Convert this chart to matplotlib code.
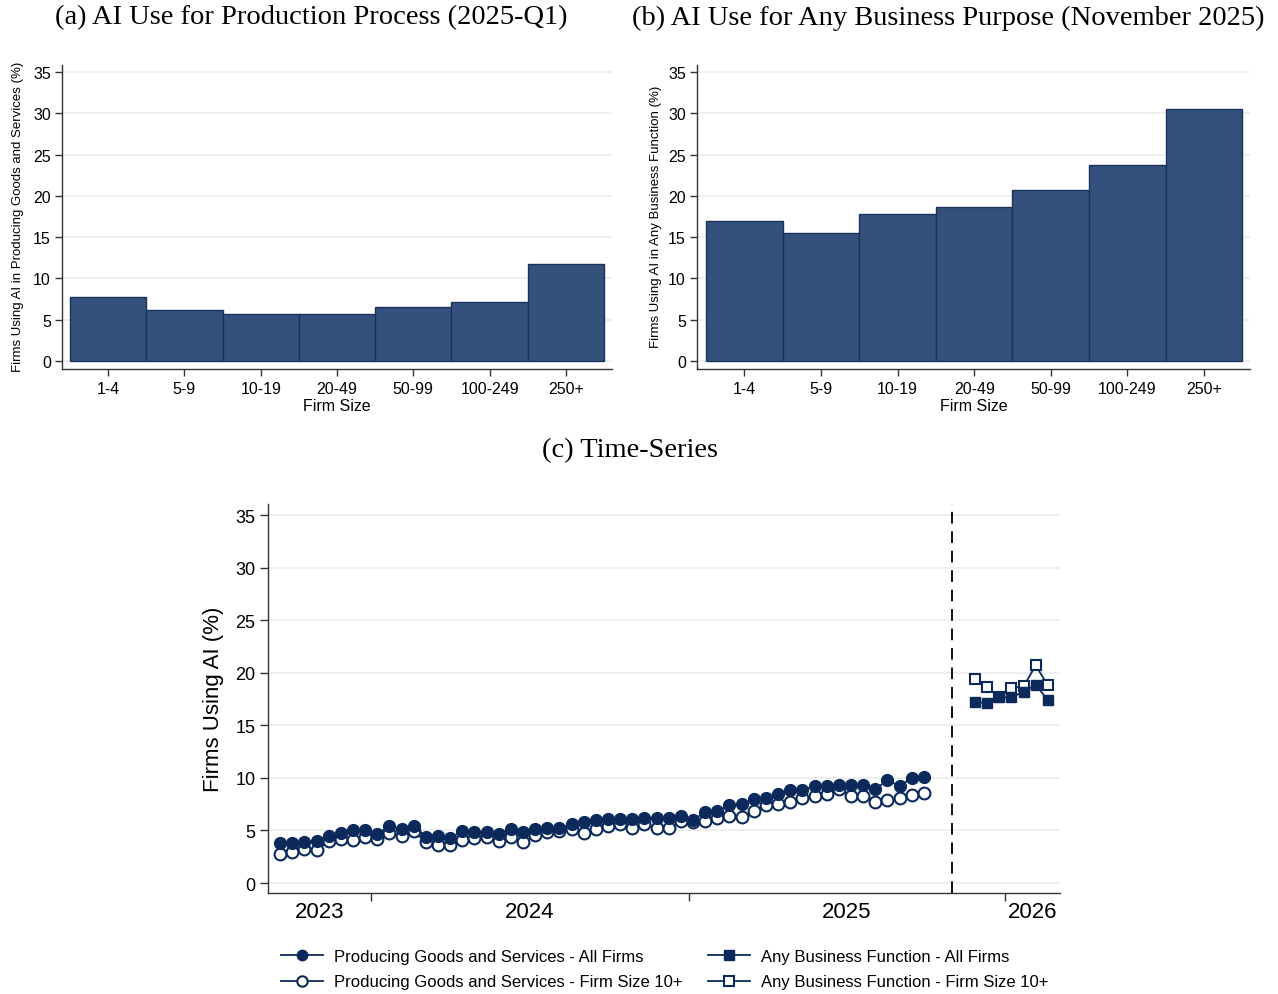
import matplotlib
matplotlib.use('Agg')
import matplotlib.pyplot as plt
import matplotlib.dates as mdates
import pandas as pd
from matplotlib.lines import Line2D

# ---------------- data ----------------
sizes = ['1-4', '5-9', '10-19', '20-49', '50-99', '100-249', '250+']
prod_q1 = [7.7, 6.2, 5.7, 5.65, 6.5, 7.1, 11.8]
any_nov = [16.95, 15.5, 17.8, 18.65, 20.7, 23.7, 30.5]

prod_start = '2023-09-18'
prod_all = [3.8, 3.8, 3.9, 4.0, 4.5, 4.75, 5.0, 5.0, 4.7, 5.4,
            5.1, 5.4, 4.4, 4.5, 4.3, 4.9, 4.85, 4.85, 4.7, 5.1,
            4.85, 5.1, 5.2, 5.2, 5.6, 5.8, 6.0, 6.1, 6.1, 6.1,
            6.2, 6.2, 6.2, 6.4, 6.0, 6.75, 6.85, 7.4, 7.5, 8.0,
            8.1, 8.5, 8.85, 8.85, 9.2, 9.2, 9.3, 9.3, 9.3, 8.9,
            9.8, 9.2, 10.0, 10.1]
prod_10 = [2.75, 2.95, 3.2, 3.1, 4.0, 4.2, 4.1, 4.4, 4.2, 4.75,
           4.5, 4.95, 3.9, 3.6, 3.6, 4.1, 4.3, 4.4, 4.0, 4.4,
           3.9, 4.6, 4.85, 4.95, 5.1, 4.75, 5.1, 5.4, 5.6, 5.2,
           5.6, 5.2, 5.2, 5.9, 5.8, 5.9, 6.2, 6.4, 6.3, 6.85,
           7.4, 7.5, 7.7, 8.1, 8.3, 8.5, 8.95, 8.3, 8.3, 7.7,
           7.9, 8.1, 8.4, 8.55]
abf_start = '2025-11-27'
abf_all = [17.2, 17.15, 17.65, 17.65, 18.2, 18.85, 17.4]
abf_10 = [19.4, 18.6, 17.65, 18.55, 18.7, 20.7, 18.8]
break_date = '2025-11-01'
year_labels = ['2023', '2024', '2025', '2026']

# ---------------- style ----------------
W, H = 1278, 995
fig = plt.figure(figsize=(W / 100, H / 100), dpi=100)
plt.rcParams['font.family'] = ['Liberation Sans', 'DejaVu Sans']

BAR = '#33517c'
BAR_EDGE = '#1b335c'
NAVY = '#0b2a5b'
GRID = '#ececec'
AX = '#333333'


def fx(px):
    return px / W


def fy(py):
    return 1 - py / H


def style_axes(ax):
    for s in ['top', 'right']:
        ax.spines[s].set_visible(False)
    for s in ['left', 'bottom']:
        ax.spines[s].set_color(AX)
        ax.spines[s].set_linewidth(1.0)
    ax.set_axisbelow(True)
    ax.yaxis.grid(True, color=GRID, linewidth=1.2)
    ax.xaxis.grid(False)


def bar_panel(rect, vals, left_gap, right_gap):
    ax = fig.add_axes(rect)
    x = list(range(len(sizes)))
    ax.bar(x, vals, width=1.0, color=BAR, edgecolor=BAR_EDGE, linewidth=1.0)
    ax.set_xlim(-0.5 - left_gap, len(sizes) - 0.5 + right_gap)
    ax.set_ylim(-0.97, 35.85)
    ax.set_yticks(range(0, 36, 5))
    ax.set_xticks(x)
    ax.set_xticklabels(sizes, fontsize=11.5)
    ax.tick_params(axis='y', labelsize=11.5, length=5, width=1, color=AX, pad=3)
    ax.tick_params(axis='x', length=5, width=1, color=AX, pad=3.5)
    style_axes(ax)
    return ax


axa = bar_panel([fx(62), fy(370), fx(550), (370 - 66) / H], prod_q1, 0.105, 0.105)
axb = bar_panel([fx(697), fy(370), fx(553), (370 - 66) / H], any_nov, 0.118, 0.1)

serif = ['Liberation Serif', 'DejaVu Serif']
fig.text(fx(311), fy(18), '(a) AI Use for Production Process (2025-Q1)',
         ha='center', va='center', fontsize=20.5, family=serif)
fig.text(fx(948), fy(18), '(b) AI Use for Any Business Purpose (November 2025)',
         ha='center', va='center', fontsize=20.5, family=serif)
fig.text(fx(630), fy(451), '(c) Time-Series',
         ha='center', va='center', fontsize=20.5, family=serif)

fig.text(fx(337), fy(407), 'Firm Size', ha='center', va='center', fontsize=11.5)
fig.text(fx(974), fy(407), 'Firm Size', ha='center', va='center', fontsize=11.5)
fig.text(fx(18), fy(217), 'Firms Using AI in Producing Goods and Services (%)',
         ha='center', va='center', rotation=90, fontsize=9.5)
fig.text(fx(656), fy(217), 'Firms Using AI in Any Business Function (%)',
         ha='center', va='center', rotation=90, fontsize=9.5)

# ---------------- panel c ----------------
axc = fig.add_axes([fx(268), fy(894), fx(792), (894 - 505) / H])
d_prod = pd.date_range(prod_start, periods=len(prod_all), freq='14D')
d_abf = pd.date_range(abf_start, periods=len(abf_all), freq='14D')

axc.plot(d_prod, prod_10, color=NAVY, lw=1.3, marker='o', ms=8.5,
         mfc='white', mec=NAVY, mew=1.5, zorder=3)
axc.plot(d_prod, prod_all, color=NAVY, lw=1.3, marker='o', ms=8.5,
         mfc=NAVY, mec=NAVY, zorder=4)
axc.plot(d_abf, abf_10, color=NAVY, lw=1.3, marker='s', ms=7.5,
         mfc='white', mec=NAVY, mew=1.5, zorder=3)
axc.plot(d_abf, abf_all, color=NAVY, lw=1.3, marker='s', ms=7.5,
         mfc=NAVY, mec=NAVY, zorder=4)
axc.axvline(pd.Timestamp(break_date), color='#111111', lw=1.4,
            linestyle=(0, (6, 4)), zorder=2)

xmin, xmax = pd.Timestamp('2023-09-04'), pd.Timestamp('2026-03-05')
axc.set_xlim(xmin, xmax)
axc.set_ylim(-0.95, 36.05)
axc.set_yticks(range(0, 36, 5))
axc.tick_params(axis='y', labelsize=13, length=6, width=1, color=AX, pad=3)

# year boundary ticks (no labels) and centred year labels (no tick marks)
bounds = [pd.Timestamp(f'{y}-01-01') for y in (2024, 2025, 2026)]
edges = [xmin] + bounds + [xmax]
mids = [edges[i] + (edges[i + 1] - edges[i]) / 2 for i in range(len(edges) - 1)]
axc.set_xticks(bounds)
axc.set_xticklabels([''] * len(bounds))
axc.set_xticks(mids, minor=True)
axc.set_xticklabels(year_labels, minor=True, fontsize=16)
axc.tick_params(axis='x', which='major', length=6, width=1, color=AX)
axc.tick_params(axis='x', which='minor', length=0, pad=6)
style_axes(axc)
fig.text(fx(213), fy(699), 'Firms Using AI (%)', ha='center', va='center',
         rotation=90, fontsize=16)

handles = [
    Line2D([], [], color=NAVY, lw=1.3, marker='o', ms=7.5, mfc=NAVY, mec=NAVY),
    Line2D([], [], color=NAVY, lw=1.3, marker='o', ms=7.5, mfc='white', mec=NAVY, mew=1.5),
    Line2D([], [], color=NAVY, lw=1.3, marker='s', ms=7, mfc=NAVY, mec=NAVY),
    Line2D([], [], color=NAVY, lw=1.3, marker='s', ms=7, mfc='white', mec=NAVY, mew=1.5),
]
labels = ['Producing Goods and Services - All Firms',
          'Producing Goods and Services - Firm Size 10+',
          'Any Business Function - All Firms',
          'Any Business Function - Firm Size 10+']
fig.legend(handles, labels, ncol=2, loc='center', bbox_to_anchor=(fx(665), fy(970)),
           frameon=False, fontsize=12, handlelength=2.5, columnspacing=1.5,
           handletextpad=0.7, labelspacing=0.65)

fig.savefig('out.png', dpi=100)
